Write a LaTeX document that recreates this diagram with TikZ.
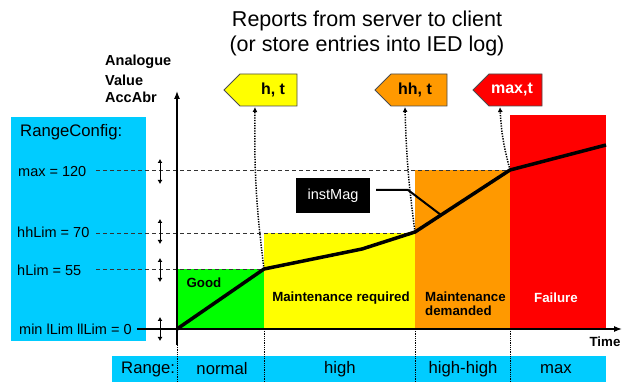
\documentclass[tikz,border=0pt]{standalone}
\usepackage{fontspec}
\setmainfont{Liberation Sans}
\usetikzlibrary{arrows.meta}
\definecolor{cfgblue}{HTML}{00CCFF}
\definecolor{goodgreen}{HTML}{00FF00}
\definecolor{warnyellow}{HTML}{FFFF00}
\definecolor{alarmorange}{HTML}{FF9900}
\definecolor{failred}{HTML}{FF0000}
\begin{document}
\begin{tikzpicture}[x=1pt,y=-1pt,
  lbl/.style={font=\fontsize{14.5}{16}\selectfont, anchor=west, inner sep=0pt},
  blbl/.style={font=\fontsize{13.3}{15}\selectfont\bfseries, inner sep=0pt},
  rng/.style={font=\fontsize{16.7}{19}\selectfont, inner sep=0pt},
  lim/.style={draw=black!80, line width=0.9pt, dash pattern=on 4pt off 3pt},
  dbl/.style={{Latex[length=4pt,width=5pt]}-{Latex[length=4pt,width=5pt]}, line width=1pt},
  sep/.style={densely dotted, line width=0.8pt},
  rep/.style={dash pattern=on 1.3pt off 1.3pt, line width=1.5pt, -{Latex[length=5pt,width=5pt]}},
  flag/.style={draw=black!70, line width=0.8pt},
  flagtxt/.style={font=\fontsize{16}{18}\selectfont\bfseries, inner sep=0pt}
]
\useasboundingbox (0,0) rectangle (625,382);

% title
\node[font=\fontsize{21.5}{25}\selectfont, align=center] (title) at (367,33)
  {Reports from server to client\\(or store entries into IED log)};

% axis label
\node[font=\fontsize{14.5}{16}\selectfont\bfseries, inner sep=0pt, anchor=west] (al1) at (105,62) {Analogue};
\node[font=\fontsize{14.5}{16}\selectfont\bfseries, inner sep=0pt, anchor=west] (al2) at (105,80) {Value};
\node[font=\fontsize{14.5}{16}\selectfont\bfseries, inner sep=0pt, anchor=west] (al3) at (105,97) {AccAbr};

% config box
\fill[cfgblue] (11,117) rectangle (146,341);
\node[rng, anchor=west] (rc) at (20,132) {RangeConfig:};
\node[lbl] (lmax) at (18,172) {max = 120};
\node[lbl] (lhh) at (17,232) {hhLim = 70};
\node[lbl] (lh) at (17,270) {hLim = 55};
\node[lbl] (lmin) at (19,329) {min lLim llLim = 0};

% range bar
\fill[cfgblue] (112,356) rectangle (606,382);
\node[rng, anchor=west] (rr) at (121,369) {Range:};
\node[rng] (rn) at (222,369) {normal};
\node[rng] (rh) at (340,369) {high};
\node[rng] (rhh) at (463,369) {high-high};
\node[rng] (rm) at (556,369) {max};

% regions
\fill[goodgreen] (177,269) rectangle (264,329);
\fill[warnyellow] (264,233) rectangle (415,329);
\fill[alarmorange] (415,170) rectangle (510,329);
\fill[failred] (510,115) rectangle (606,329);

\node[blbl] (good) at (204,283) {Good};
\node[blbl] (mreq) at (341,298) {Maintenance required};
\node[blbl, anchor=west, align=left] (mdem) at (425,304) {Maintenance\\[-1pt]demanded};
\node[blbl, text=white] (fail) at (556,298) {Failure};

% limit lines
\draw[lim] (96,170) -- (510,170);
\draw[lim] (96,233) -- (415,233);
\draw[lim] (96,269) -- (264,269);

% double arrows
\draw[dbl] (160,159) -- (160,184);
\draw[dbl] (160,219) -- (160,244);
\draw[dbl] (160,258) -- (160,282);
\draw[dbl] (160,317) -- (160,341);

% axes
\coordinate (ybot) at (177,345);
\coordinate (ytop) at (177,91);
\coordinate (xleft) at (137,329);
\coordinate (xright) at (622,329);
\draw[line width=1.3pt, -{Latex[length=8pt,width=6pt]}] (ybot) -- (ytop);
\draw[line width=1.3pt, -{Latex[length=8pt,width=6pt]}] (xleft) -- (xright);
\node[blbl] (time) at (605,342) {Time};

% separators
\draw[sep] (177,345) -- (177,382);
\draw[sep] (264,329) -- (264,382);
\draw[sep] (415,329) -- (415,382);
\draw[sep] (510,329) -- (510,382);

% curve points
\coordinate (c0) at (177,329);
\coordinate (c1) at (264,269);
\coordinate (c2) at (362,249);
\coordinate (c3) at (415,232);
\coordinate (c4) at (510,170);
\coordinate (c5) at (606,145);
\coordinate (cm) at (441,215);

% flags
\draw[flag, fill=warnyellow] (224,90) -- (240,74) -- (297,74) -- (297,106) -- (240,106) -- cycle;
\node[flagtxt] (f1) at (273,90) {h, t};
\draw[flag, fill=alarmorange] (375,90) -- (391,74) -- (447,74) -- (447,106) -- (391,106) -- cycle;
\node[flagtxt] (f2) at (415,90) {hh, t};
\draw[flag, fill=failred] (473,90) -- (489,74) -- (542,74) -- (542,106) -- (489,106) -- cycle;
\node[flagtxt, text=white] (f3) at (512,90) {max,t};
\coordinate (a1) at (255,107);
\coordinate (a2) at (405,107);
\coordinate (a3) at (500,107);

\draw[rep] (c1) to[bend left=4] (a1);
\draw[rep] (c3) to[bend left=3] (a2);
\draw[rep] (c4) to[bend left=6] (a3);

% curve
\draw[line width=3.5pt, line join=round] (c0) -- (c1) -- (c2) -- (c3) -- (c4) -- (c5);

% instMag
\node[fill=black, text=white, font=\fontsize{14.5}{16}\selectfont, minimum width=74pt, minimum height=35pt, inner sep=0pt] (im) at (333,195.5) {instMag};
\coordinate (ik) at (408,190);
\draw[line width=2pt] (376,190) -- (ik) -- (cm);
\end{tikzpicture}
\end{document}
